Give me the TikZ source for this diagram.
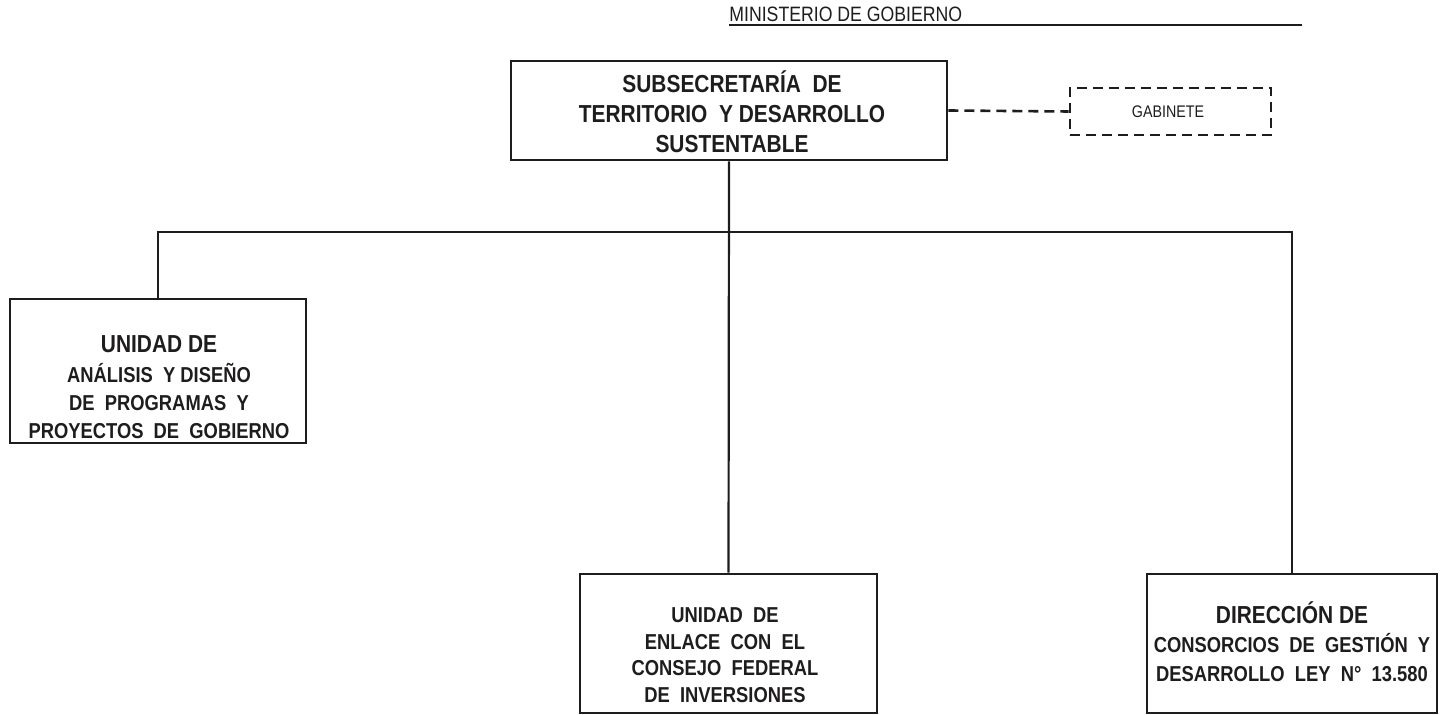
\documentclass[tikz,border=0pt]{standalone}
\usepackage{fontspec}
\newfontfamily\cond[FakeStretch=0.85]{Liberation Sans}
\newcommand\fhead{\cond\bfseries\fontsize{12.3}{15}\selectfont}
\newcommand\fbody{\cond\bfseries\fontsize{10.8}{14}\selectfont}
\definecolor{ink}{RGB}{30,28,28}
\tikzset{
  box/.style={draw=ink, line width=1.3pt, rectangle, inner sep=0pt},
  dbox/.style={box, dash pattern=on 5pt off 3pt},
  conn/.style={draw=ink, line width=1.1pt},
  dconn/.style={draw=ink, line width=1.3pt, dash pattern=on 5pt off 3pt},
  txt/.style={align=center, inner sep=0pt, text=ink},
}
\begin{document}
\begin{tikzpicture}[x=0.5pt,y=-0.5pt]
\useasboundingbox (0,0) rectangle (1443,715);
% title
\node[anchor=base west, inner sep=0pt, text=ink] (title) at (729,22)
  {\cond\fontsize{10.4}{12}\selectfont MINISTERIO DE GOBIERNO};
\coordinate (ulend) at (1302,25);
\draw[ink, line width=1.3pt] (title.west |- ulend) -- (ulend);
% boxes
\node[box, minimum width=218pt, minimum height=49.5pt] (top) at (729,110.5) {};
\node[txt, font=\fhead] (toptxt) at (732,112)
  {SUBSECRETAR\'IA \ DE\\TERRITORIO \ Y DESARROLLO\\SUSTENTABLE};
\node[dbox, minimum width=100.5pt, minimum height=23.5pt] (gab) at (1170.5,111.5) {};
\node[txt] (gabtxt) at (1168,112) {\cond\fontsize{8.4}{10}\selectfont GABINETE};
\node[box, minimum width=148pt, minimum height=72pt] (left) at (158,371) {};
\node[txt, font=\fbody] (lefttxt) at (159,387)
  {{\fhead UNIDAD DE}\\[1pt]AN\'ALISIS \ Y DISE\~NO\\DE \ PROGRAMAS \ Y\\PROYECTOS \ DE \ GOBIERNO};
\node[box, minimum width=148.5pt, minimum height=69.5pt] (mid) at (728.5,643.5) {};
\node[txt, font=\cond\bfseries\fontsize{10.8}{13.3}\selectfont] (midtxt) at (725,655)
  {UNIDAD \ DE\\ENLACE \ CON \ EL\\CONSEJO \ FEDERAL\\DE \ INVERSIONES};
\node[box, minimum width=145pt, minimum height=69.5pt] (right) at (1292,643.5) {};
\node[txt, font=\cond\bfseries\fontsize{10.8}{14.5}\selectfont] (righttxt) at (1292,642)
  {{\fhead DIRECCI\'ON DE}\\CONSORCIOS \ DE \ GESTI\'ON \ Y\\DESARROLLO \ LEY \ N\textdegree{} \ 13.580};
% connectors
\coordinate (bus) at (729,232);
\draw[conn] (top.south) -- (mid.north);
\draw[conn] (left.north) |- (bus) -| (right.north);
\draw[dconn] (top.east) -- (gab.west);
\end{tikzpicture}
\end{document}
